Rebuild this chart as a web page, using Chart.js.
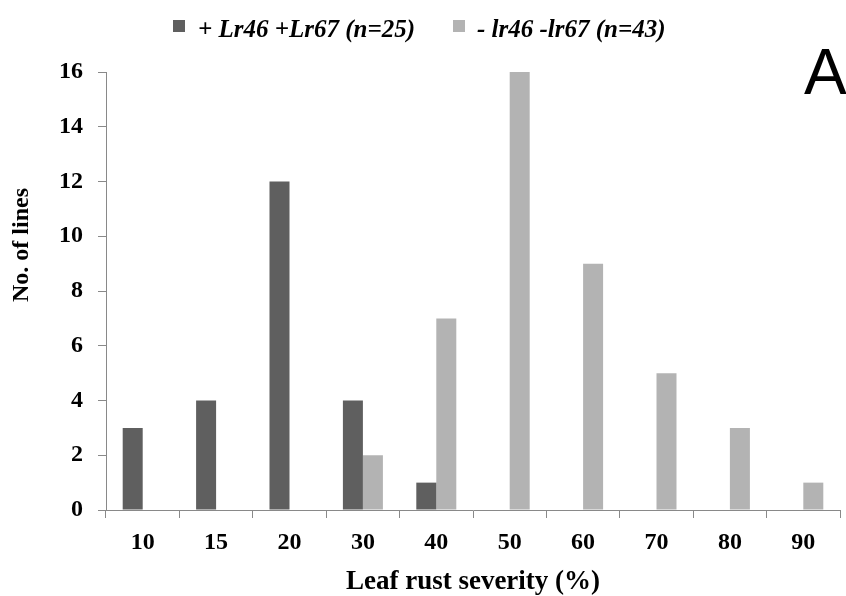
<!DOCTYPE html>
<html>
<head>
<meta charset="utf-8">
<script src="https://cdn.jsdelivr.net/npm/chart.js@4.4.1/dist/chart.umd.min.js"></script>
<style>
  html, body { margin: 0; padding: 0; background: #fff; }
  #wrap { position: relative; width: 846px; height: 596px; overflow: hidden; }
  #c { position: absolute; left: 0; top: 0; }
  .lg-box { position: absolute; width: 12px; height: 12px; top: 20px; }
  .lg-txt { position: absolute; top: 17px; font: italic bold 25px/24px "Liberation Serif", "Times New Roman", serif; color: #000; white-space: nowrap; }
  #panel { position: absolute; left: 804px; top: 40px; font: 64px/64px "Liberation Sans", Arial, sans-serif; color: #000; }
  #ytitle { position: absolute; left: -80px; top: 230px; width: 200px; height: 30px; line-height: 30px; text-align: center;
            font: bold 24px/30px "Liberation Serif", "Times New Roman", serif; color: #000; transform: rotate(-90deg); transform-origin: 50% 50%; white-space: nowrap; }
</style>
</head>
<body>
<div id="wrap">
  <canvas id="c" width="846" height="596"></canvas>
  <div id="legend"></div>
  <div id="ytitle"></div>
  <div id="panel">A</div>
</div>
<script>
const categories = ["10", "15", "20", "30", "40", "50", "60", "70", "80", "90"];
const seriesNames = ["+ Lr46 +Lr67 (n=25)", "- lr46 -lr67 (n=43)"];
const resistantLines = [3, 4, 12, 4, 1, 0, 0, 0, 0, 0];
const susceptibleLines = [0, 0, 0, 2, 7, 16, 9, 5, 3, 1];
const yTicks = [0, 2, 4, 6, 8, 10, 12, 14, 16];
const xTitle = "Leaf rust severity (%)";
const yTitle = "No. of lines";

const colors = ["#5f5f5f", "#b3b3b3"];
const axisGray = "#898989";
const serif = '"Liberation Serif", "Times New Roman", serif';

// HTML legend
const legendPos = [{box: 173, txt: 198}, {box: 453, txt: 477}];
const lg = document.getElementById('legend');
seriesNames.forEach((name, i) => {
  const b = document.createElement('div');
  b.className = 'lg-box';
  b.style.left = legendPos[i].box + 'px';
  b.style.background = colors[i];
  lg.appendChild(b);
  const t = document.createElement('div');
  t.className = 'lg-txt';
  t.style.left = legendPos[i].txt + 'px';
  t.textContent = name;
  lg.appendChild(t);
});
document.getElementById('ytitle').textContent = yTitle;

new Chart(document.getElementById('c'), {
  type: 'bar',
  data: {
    labels: categories,
    datasets: [
      { label: seriesNames[0], data: resistantLines, backgroundColor: colors[0], borderWidth: 0,
        categoryPercentage: 0.545, barPercentage: 1.0 },
      { label: seriesNames[1], data: susceptibleLines, backgroundColor: colors[1], borderWidth: 0,
        categoryPercentage: 0.545, barPercentage: 1.0 }
    ]
  },
  options: {
    responsive: false,
    animation: false,
    devicePixelRatio: 1,
    layout: { padding: { top: 72, left: 2, right: 6, bottom: 0 } },
    plugins: {
      legend: { display: false },
      tooltip: { enabled: false }
    },
    scales: {
      x: {
        grid: { display: true, drawOnChartArea: false, drawTicks: true, tickLength: 8, color: axisGray, offset: true },
        border: { display: true, color: axisGray, width: 1 },
        ticks: { color: '#000', font: { family: serif, size: 24, weight: 'bold' }, padding: 10, maxRotation: 0, autoSkip: false },
        title: { display: true, text: xTitle, color: '#000', font: { family: serif, size: 27, weight: 'bold' }, padding: { top: 0, bottom: -2 } },
        afterFit: (s) => { s.height = 86; }
      },
      y: {
        min: 0, max: 16,
        afterBuildTicks: (s) => { s.ticks = yTicks.map(v => ({ value: v })); },
        grid: { display: true, drawOnChartArea: false, drawTicks: true, tickLength: 8, color: axisGray },
        border: { display: true, color: axisGray, width: 1 },
        ticks: { color: '#000', font: { family: serif, size: 24, weight: 'bold' }, padding: 15 },
        title: { display: false },
        afterFit: (s) => { s.width = 104; }
      }
    }
  }
});
</script>
</body>
</html>
